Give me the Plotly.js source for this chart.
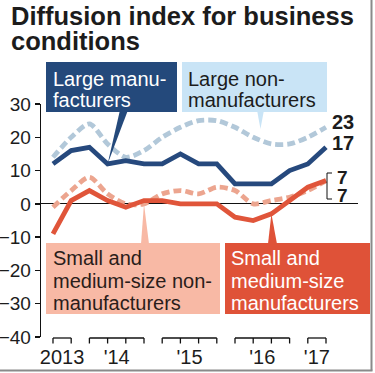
<!DOCTYPE html>
<html><head><meta charset="utf-8">
<script src="https://cdn.plot.ly/plotly-3.0.1.min.js"></script>
<style>html,body{margin:0;padding:0;background:#fff;overflow:hidden}#chart{width:375px;height:373px}</style>
</head><body><div id="chart"></div>
<script>
// ---- data ----
const quarters = ['Sep 2013','Dec 2013','Mar 2014','Jun 2014','Sep 2014','Dec 2014','Mar 2015','Jun 2015','Sep 2015','Dec 2015','Mar 2016','Jun 2016','Sep 2016','Dec 2016','Mar 2017','Jun 2017'];
const quarterYear = [2013,2013,2014,2014,2014,2014,2015,2015,2015,2015,2016,2016,2016,2016,2017,2017];
const yearLabels = ['2013',"'14","'15","'16","'17"];
const largeMfg    = [12,16,17,12,13,12,12,15,12,12,6,6,6,10,12,17];
const largeNonMfg = [14,20,24,18,14,16,20,23,25,25,23,20,18,18,20,23];
const smallMfg    = [-9,1,4,1,-1,1,1,0,0,0,-4,-5,-3,1,5,7];
const smallNonMfg = [-1,4,8,3,0,0,3,4,3,5,4,0,1,2,4,7];
const yTicks = [-40,-30,-20,-10,0,10,20,30];

// ---- geometry ----
const FW = 375, FH = 373;
const L = 41, R = 358, T = 104, B = 337, W = R - L, H = B - T;
const xr = [-0.659, 16.758], yr = [-40, 30];
const px2x = p => (p - L) / W;
const py2y = p => (B - p) / H;
const dX = i => L + (i - xr[0]) / (xr[1] - xr[0]) * W;   // data -> pixel
const dY = v => B - (v - yr[0]) / (yr[1] - yr[0]) * H;
const idx = quarters.map((q, i) => i);

const FONT = 'Liberation Sans, Arial, Helvetica, sans-serif';
const C = {navy:'#26497d', lblue:'#b2c8d9', salmon:'#eca58f', red:'#e0553a',
           box1:'#24497b', box2:'#c9e4f6', box3:'#f8b9a5', box4:'#df5238', ink:'#1c1c1c'};

function line(y, color, dash, shape) {
  return {x: idx, y: y, text: quarters, type: 'scatter', mode: 'lines',
    line: {color: color, width: 4.8, dash: dash || 'solid', shape: shape || 'linear', smoothing: 0.8},
    hoverinfo: 'text+y', showlegend: false};
}
const traces = [
  line(largeNonMfg, C.lblue, '8px,4px', 'spline'),
  line(largeMfg, C.navy),
  line(smallNonMfg, C.salmon, '8px,4px', 'spline'),
  line(smallMfg, C.red)
];

// year ticks at group centres, brackets per year
const years = [...new Set(quarterYear)];
const groups = years.map(y => idx.filter(i => quarterYear[i] === y));
const tickvals = groups.map(g => (g[0] + g[g.length - 1]) / 2);

const shapes = [];
groups.forEach(g => {
  shapes.push({type:'line', xref:'x', yref:'paper', x0:g[0], x1:g[g.length-1], y0:py2y(338), y1:py2y(338), line:{color:'#111', width:1.3}});
  g.forEach(i => shapes.push({type:'line', xref:'x', yref:'paper', x0:i, x1:i, y0:py2y(338), y1:py2y(343.5), line:{color:'#111', width:1.3}}));
});

function rect(x0, x1, y0, y1, color) {
  return {type:'rect', xref:'paper', yref:'paper', x0:px2x(x0), x1:px2x(x1), y0:py2y(y1), y1:py2y(y0), fillcolor:color, line:{width:0}, layer:'above'};
}
function tri(pts, color) {
  const d = 'M' + pts.map(p => px2x(p[0]) + ',' + py2y(p[1])).join(' L') + ' Z';
  return {type:'path', xref:'paper', yref:'paper', path:d, fillcolor:color, line:{width:0}, layer:'above'};
}
// callout pointers
shapes.push(tri([[120,110],[128,110],[dX(3), dY(largeMfg[3])]], C.box1));
shapes.push(tri([[257,110],[264,110],[dX(11.4), dY(largeNonMfg[11] + 2.5)]], C.box2));
shapes.push(tri([[141,244],[149,244],[dX(5), dY(smallNonMfg[5])]], C.box3));
shapes.push(tri([[268,244],[277,244],[dX(12), dY(smallMfg[12])]], C.box4));
// callout boxes
shapes.push(rect(46,177,62,112,C.box1));
shapes.push(rect(182,327,62,112,C.box2));
shapes.push(rect(46,220,243,314,C.box3));
shapes.push(rect(225,370,243,314,C.box4));
// bracket for the two 7s
shapes.push({type:'path', xref:'paper', yref:'paper',
  path:'M'+px2x(332)+','+py2y(173)+' L'+px2x(327)+','+py2y(173)+' L'+px2x(327)+','+py2y(199)+' L'+px2x(332)+','+py2y(199),
  line:{color:'#111', width:1}});
// frame shadow right/bottom
shapes.push({type:'line', xref:'paper', yref:'paper', x0:px2x(371.5), x1:px2x(371.5), y0:py2y(0), y1:py2y(370.5), line:{color:'#8a8a8a', width:2}});
shapes.push({type:'line', xref:'paper', yref:'paper', x0:px2x(0), x1:px2x(372.5), y0:py2y(370.5), y1:py2y(370.5), line:{color:'#8a8a8a', width:2}});

function txt(t, x, y, size, color, bold) {
  return {text: bold ? '<b>' + t + '</b>' : t, xref:'paper', yref:'paper', x:px2x(x), y:py2y(y),
    xanchor:'left', yanchor:'middle', showarrow:false, borderpad:0, font:{family:FONT, size:size, color:color}};
}
const annotations = [
  txt('Diffusion index for business', 10, 16, 25.5, C.ink, true),
  txt('conditions', 10, 41, 25.5, C.ink, true),
  txt('Large manu-', 52, 79, 20, '#ffffff'),
  txt('facturers', 52, 100, 20, '#ffffff'),
  txt('Large non-', 187, 79, 20, C.ink),
  txt('manufacturers', 187, 100, 20, C.ink),
  txt('Small and', 52, 258, 20, '#2a1d1a'),
  txt('medium-size non-', 52, 281, 20, '#2a1d1a'),
  txt('manufacturers', 52, 303, 20, '#2a1d1a'),
  txt('Small and', 230, 258, 20, '#ffffff'),
  txt('medium-size', 230, 281, 20, '#ffffff'),
  txt('manufacturers', 230, 303, 20, '#ffffff'),
  txt(String(largeNonMfg[largeNonMfg.length-1]), 331, 122, 20, C.ink, true),
  txt(String(largeMfg[largeMfg.length-1]), 331, 143, 20, C.ink, true),
  txt(String(smallMfg[smallMfg.length-1]), 336, 177, 19, C.ink, true),
  txt(String(smallNonMfg[smallNonMfg.length-1]), 336, 195, 19, C.ink, true)
];

const layout = {
  width: FW, height: FH,
  margin: {l: L, r: FW - R, t: T, b: FH - B, pad: 0},
  paper_bgcolor: '#fff', plot_bgcolor: '#fff',
  font: {family: FONT, color: C.ink},
  showlegend: false,
  xaxis: {range: xr, showgrid: false, zeroline: false, showline: false, ticks: '',
    tickmode: 'array', tickvals: tickvals, ticktext: yearLabels,
    tickfont: {size: 20, color: C.ink, family: FONT}, ticklabelstandoff: 6, fixedrange: true},
  yaxis: {range: yr, showgrid: false, zeroline: true, zerolinecolor: '#111', zerolinewidth: 1,
    showline: true, linecolor: '#111', linewidth: 1.3, ticks: 'outside', ticklen: 5, tickwidth: 1.3, tickcolor: '#111',
    tickmode: 'array', tickvals: yTicks, tickfont: {size: 19, color: C.ink, family: FONT}, fixedrange: true},
  shapes: shapes,
  annotations: annotations
};
Plotly.newPlot('chart', traces, layout, {displayModeBar: false, staticPlot: true});
</script>
</body></html>
